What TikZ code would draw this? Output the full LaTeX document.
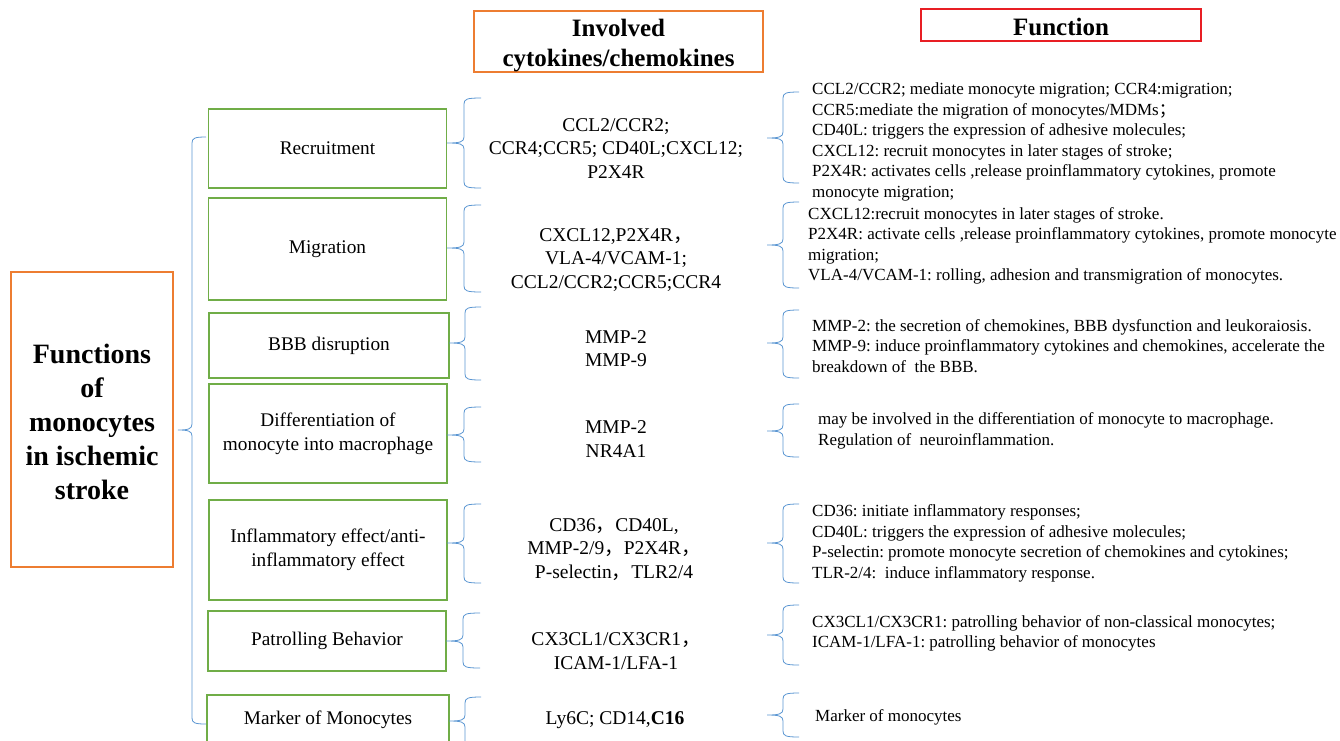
\documentclass[tikz,border=0pt]{standalone}
\usepackage{fontspec}
\setmainfont{Liberation Serif}
\newfontfamily\cjk{Noto Sans CJK SC}
\usetikzlibrary{positioning}
\frenchspacing
\definecolor{boxgreen}{RGB}{112,173,71}
\definecolor{boxorange}{RGB}{237,125,49}
\definecolor{boxred}{RGB}{232,30,36}
\definecolor{brcblue}{RGB}{91,150,210}
\newcommand{\fw}[1]{{\cjk #1}}
% left brace: tip x, tip y, top, bottom, arm
\newcommand{\brc}[5]{%
  \draw[brc] ({#1+2*#5},#3) .. controls ({#1+#5+3},#3) and ({#1+#5},{#3+1}) .. ({#1+#5},{#3+6})
    -- ({#1+#5},{#2-6}) .. controls ({#1+#5},{#2-1}) and ({#1+#5-4},#2) .. (#1,#2)
    .. controls ({#1+#5-4},#2) and ({#1+#5},{#2+1}) .. ({#1+#5},{#2+6})
    -- ({#1+#5},{#4-6}) .. controls ({#1+#5},{#4-1}) and ({#1+#5+3},#4) .. ({#1+2*#5},#4);}

\begin{document}
\begin{tikzpicture}[x=1pt,y=-1pt,
    cat/.style={rectangle,draw=boxgreen,line width=1.6pt,minimum width=238pt,align=center,font=\fontsize{19.3}{24}\selectfont},
    mol/.style={inner sep=0pt,align=center,font=\fontsize{19.5}{23.5}\selectfont},
    fn/.style={inner sep=0pt,anchor=west,align=left,font=\fontsize{17}{20.5}\selectfont},
    hdr/.style={rectangle,draw,line width=1.6pt,inner sep=0pt},
    htxt/.style={inner sep=0pt,align=center,font=\fontsize{25}{30}\selectfont\bfseries},
    brc/.style={draw=brcblue,line width=0.8pt}]

\useasboundingbox (0,0) rectangle (1340,740);
\clip (0,0) rectangle (1340,740);

% Titre et en-tetes
\node[hdr,draw=boxorange,minimum width=162pt,minimum height=295pt] (title) at (92,419.5) {};
\node[htxt,font=\fontsize{28}{34}\selectfont\bfseries] (title-t) at ([yshift=-2pt]title.center)
  {Functions\\of\\monocytes\\in ischemic\\stroke};
\node[hdr,draw=boxorange,minimum width=289pt,minimum height=61pt] (hmol) at (618.5,41.5) {};
\node[htxt] (hmol-t) at ([yshift=-4pt]hmol.center) {Involved\\cytokines/chemokines};
\node[hdr,draw=boxred,minimum width=280pt,minimum height=32pt] (hfn) at (1061,25) {};
\node[htxt] (hfn-t) at ([yshift=-2pt]hfn.center) {Function};

% Categories
\node[cat,minimum height=79pt] (rec) at (327.5,148.5) {Recruitment};
\node[cat,minimum height=102pt] (mig) at (327.5,249) {Migration};
\node[cat,minimum width=240pt,minimum height=65pt] (bbb) at (329,345.5) {BBB disruption};
\node[cat,minimum height=99pt] (dif) at (328,433.5) {Differentiation of\\monocyte into macrophage};
\node[cat,minimum height=100pt] (inf) at (328,550) {Inflammatory effect/anti-\\inflammatory effect};
\node[cat,minimum height=60pt] (pat) at (327,641) {Patrolling Behavior};
\node[cat,minimum width=242pt,minimum height=50pt] (mar) at (328,720) {Marker of Monocytes};

% Molecules
\node[mol] (rec-m) at (616,148.5) {CCL2/CCR2;\\CCR4;CCR5; CD40L;CXCL12;\\P2X4R};
\node[mol] (mig-m) at (616,260) {CXCL12,P2X4R\fw{，}\\VLA-4/VCAM-1;\\CCL2/CCR2;CCR5;CCR4};
\node[mol] (bbb-m) at (616,348.5) {MMP-2\\MMP-9};
\node[mol] (dif-m) at (616,439) {MMP-2\\NR4A1};
\node[mol] (inf-m) at (614,549.5) {CD36\fw{，}CD40L,\\MMP-2/9\fw{，}P2X4R\fw{，}\\P-selectin\fw{，}TLR2/4};
\node[mol] (pat-m) at (616,651) {CX3CL1/CX3CR1\fw{，}\\ICAM-1/LFA-1};
\node[mol] (mar-m) at (615,720) {Ly6C; CD14,\textbf{C16}};

% Fonctions
\node[fn] (rec-f) at (812,142) {CCL2/CCR2; mediate monocyte migration; CCR4:migration;\\
  CCR5:mediate the migration of monocytes/MDMs\fw{；}\\
  CD40L: triggers the expression of adhesive molecules;\\
  CXCL12: recruit monocytes in later stages of stroke;\\
  P2X4R: activates cells ,release proinflammatory cytokines, promote\\
  monocyte migration;};
\node[fn] (mig-f) at (808,246) {CXCL12:recruit monocytes in later stages of stroke.\\
  P2X4R: activate cells ,release proinflammatory cytokines, promote monocyte\\
  migration;\\
  VLA-4/VCAM-1: rolling, adhesion and transmigration of monocytes.};
\node[fn] (bbb-f) at (812,346) {MMP-2: the secretion of chemokines, BBB dysfunction and leukoraiosis.\\
  MMP-9: induce proinflammatory cytokines and chemokines, accelerate the\\
  breakdown of~ the BBB.};
\node[fn] (dif-f) at (818,431) {may be involved in the differentiation of monocyte to macrophage.\\
  Regulation of~ neuroinflammation.};
\node[fn] (inf-f) at (812,543.5) {CD36: initiate inflammatory responses;\\
  CD40L: triggers the expression of adhesive molecules;\\
  P-selectin: promote monocyte secretion of chemokines and cytokines;\\
  TLR-2/4:~ induce inflammatory response.};
\node[fn] (pat-f) at (812,633.5) {CX3CL1/CX3CR1: patrolling behavior of non-classical monocytes;\\
  ICAM-1/LFA-1: patrolling behavior of monocytes};
\node[fn] (mar-f) at (815,717) {Marker of monocytes};

% Accolades
\brc{178}{430}{137}{724}{14}
\brc{447}{143}{98}{188}{17}
\brc{447}{248}{205}{292}{17}
\brc{449}{343}{307}{380}{16}
\brc{447}{435}{407}{462}{17}
\brc{447}{543}{504}{583}{17}
\brc{446}{641}{613}{668}{17}
\brc{449}{721}{697}{765}{16}
\brc{767}{138}{92}{183}{16}
\brc{767}{245}{202}{288}{16}
\brc{767}{343}{310}{378}{16}
\brc{767}{431}{404}{457}{16}
\brc{767}{543}{504}{583}{16}
\brc{767}{635}{605}{665}{16}
\brc{767}{715}{693}{737}{16}

\end{tikzpicture}
\end{document}
